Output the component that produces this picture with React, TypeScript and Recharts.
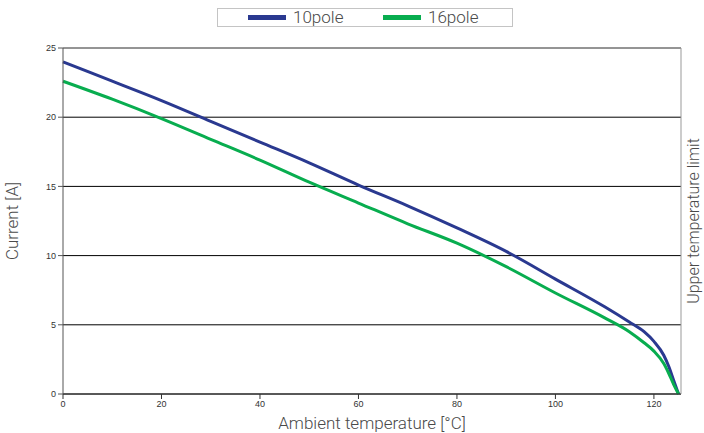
import { LineChart, Line, XAxis, YAxis, CartesianGrid, ReferenceLine } from "recharts";

const temps = [0, 10, 20, 30, 40, 50, 60, 70, 80, 90, 100, 110, 115, 118, 120, 122, 123, 124, 125];
const pole10 = [24.0, 22.6, 21.2, 19.7, 18.2, 16.7, 15.1, 13.6, 12.0, 10.3, 8.3, 6.3, 5.2, 4.5, 3.8, 2.8, 2.0, 1.0, 0];
const pole16 = [22.6, 21.3, 19.9, 18.4, 16.9, 15.3, 13.8, 12.3, 10.9, 9.2, 7.3, 5.5, 4.5, 3.7, 3.1, 2.2, 1.5, 0.7, 0];
const xTicks = [0, 20, 40, 60, 80, 100, 120];
const yTicks = [0, 5, 10, 15, 20, 25];

const data = temps.map((t, i) => ({ t, p10: pole10[i], p16: pole16[i] }));

const BLUE = "#2a3990";
const GREEN = "#08ad4f";
const tickStyle = { fontSize: 9, fill: "#333", fontFamily: "Liberation Sans, Arial, sans-serif" };
const titleStyle = { fontSize: 17, fill: "#4a4a4a", fontFamily: "Roboto, sans-serif", fontWeight: 300 };

export default function App() {
  return (
    <div style={{ position: "absolute", left: 0, top: 0, width: 704, height: 433, background: "#fff" }}>
      <div
        style={{
          position: "absolute",
          left: 217,
          top: 8,
          width: 296,
          height: 19,
          border: "1px solid #c4c4c4",
          display: "flex",
          alignItems: "center",
          fontFamily: "Roboto, sans-serif",
          fontWeight: 300,
          fontSize: 17,
          color: "#4a4a4a",
          boxSizing: "border-box",
          lineHeight: "17px",
        }}
      >
        <span style={{ display: "inline-block", flex: "none", width: 38, height: 5, background: BLUE, marginLeft: 30, marginRight: 7 }} />
        <span style={{ width: 58 }}>10pole</span>
        <span style={{ display: "inline-block", flex: "none", width: 38, height: 5, background: GREEN, marginLeft: 32, marginRight: 7 }} />
        <span>16pole</span>
      </div>
      <LineChart width={704} height={433} data={data} margin={{ top: 48, right: 0, bottom: 0, left: 0 }}>
        <CartesianGrid yAxisId="left" vertical={false} stroke="#000" strokeWidth={1} />
        <XAxis
          dataKey="t"
          type="number"
          domain={[0, 125.5]}
          ticks={xTicks}
          height={39}
          tick={tickStyle}
          tickSize={5}
          stroke="#333"
          label={{ value: "Ambient temperature [°C]", position: "insideBottom", offset: 4, style: titleStyle }}
        />
        <YAxis
          yAxisId="left"
          type="number"
          domain={[0, 25]}
          ticks={yTicks}
          width={63}
          tick={tickStyle}
          tickSize={5}
          stroke="#555"
          label={{ value: "Current [A]", angle: -90, position: "insideLeft", offset: 12, style: { ...titleStyle, textAnchor: "middle" } }}
        />
        <YAxis
          yAxisId="right"
          orientation="right"
          type="number"
          domain={[0, 25]}
          width={23}
          tick={false}
          tickLine={false}
          stroke="#999"
          label={{ value: "Upper temperature limit", angle: -90, position: "insideRight", offset: 11, style: { ...titleStyle, fontSize: 16, textAnchor: "middle" } }}
        />
        <ReferenceLine yAxisId="left" y={25} stroke="#aaa" />
        <Line yAxisId="left" type="monotone" dataKey="p10" stroke={BLUE} strokeWidth={3} dot={false} isAnimationActive={false} />
        <Line yAxisId="left" type="monotone" dataKey="p16" stroke={GREEN} strokeWidth={3} dot={false} isAnimationActive={false} />
      </LineChart>
    </div>
  );
}
